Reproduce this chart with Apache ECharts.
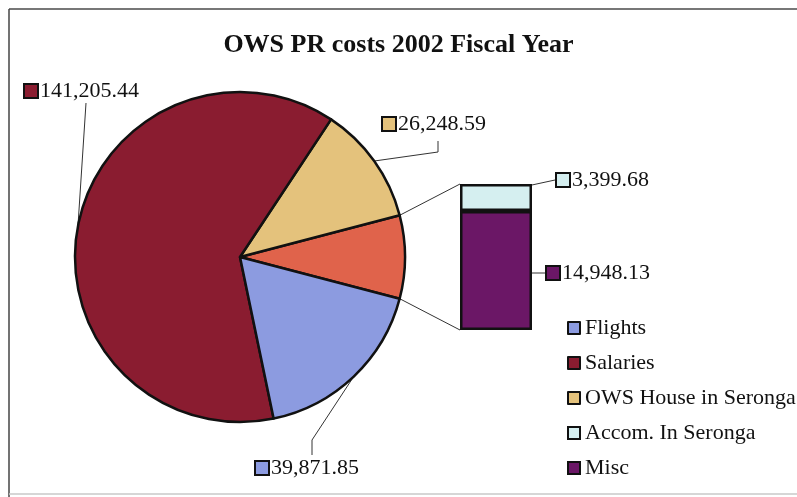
<!DOCTYPE html>
<html>
<head>
<meta charset="utf-8">
<script src="https://cdn.jsdelivr.net/npm/echarts@6/dist/echarts.min.js"></script>
<style>
  html, body { margin: 0; padding: 0; background: #ffffff; }
  #chart { width: 797px; height: 497px; }
</style>
</head>
<body>
<div id="chart"></div>
<script>
// Cost categories and amounts (USD), fiscal year 2002
const categories = ['Flights', 'Salaries', 'OWS House in Seronga', 'Accom. In Seronga', 'Misc'];
const pieNames   = ['Flights', 'Salaries', 'OWS House in Seronga'];
const pieValues  = [39871.85, 141205.44, 26248.59];
const barNames   = ['Accom. In Seronga', 'Misc'];
const barValues  = [3399.68, 14948.13];

const COLORS = {
  'Flights': '#8c9be0',
  'Salaries': '#8a1c30',
  'OWS House in Seronga': '#e4c27c',
  'Other': '#e0634b',
  'Accom. In Seronga': '#d5eff0',
  'Misc': '#6b1766'
};
const FONT = "'Liberation Serif', 'Times New Roman', serif";

// Pie geometry
const CX = 240, CY = 257, R = 165;
// Stacked breakdown bar geometry
const BAR = { left: 460, top: 184, width: 72, height: 146 };

const otherValue = barValues.reduce((a, b) => a + b, 0);
const total = pieValues.reduce((a, b) => a + b, 0) + otherValue;
const halfOther = otherValue / total * 180;

// Slices in counter-clockwise order starting with the split-out slice
const pieOrder = [
  { name: 'Other', value: otherValue },
  { name: pieNames[2], value: pieValues[2] },
  { name: pieNames[1], value: pieValues[1] },
  { name: pieNames[0], value: pieValues[0] }
];

// Mid angle (degrees, counter-clockwise from 3 o'clock) for each slice
const midAngles = {};
(function () {
  let a = -halfOther;
  pieOrder.forEach(d => {
    const span = d.value / total * 360;
    midAngles[d.name] = a + span / 2;
    a += span;
  });
})();
function edgePoint(deg) {
  const t = deg * Math.PI / 180;
  return [CX + R * Math.cos(t), CY - R * Math.sin(t)];
}

function fmt(v) {
  return v.toLocaleString('en-US', { minimumFractionDigits: 2, maximumFractionDigits: 2 });
}

// Label placement: anchor of the label text and the leader-line bends
const pieLabelSpot = {
  'Salaries': { x: 25, y: 91, bends: [[86, 103]] },
  'OWS House in Seronga': { x: 383, y: 124, bends: [[438, 152], [438, 141]] },
  'Flights': { x: 256, y: 468, bends: [[312, 440], [312, 455]] }
};

const rich = {
  v: { fontFamily: FONT, fontSize: 22, color: '#111', padding: [0, 0, 0, 3] }
};
Object.keys(COLORS).forEach((k, i) => {
  rich['s' + i] = { width: 12, height: 12, backgroundColor: COLORS[k], borderColor: '#111', borderWidth: 2 };
});
function sqKey(name) { return 's' + Object.keys(COLORS).indexOf(name); }

const chart = echarts.init(document.getElementById('chart'), null, { renderer: 'canvas' });

const pieData = pieOrder.map(d => ({
  name: d.name,
  value: d.value,
  itemStyle: { color: COLORS[d.name] },
  label: { show: d.name !== 'Other' },
  labelLine: { show: d.name !== 'Other' }
}));

const barSeries = [
  { name: barNames[1], value: barValues[1], labelSpot: { x: 547, y: 273 } },
  { name: barNames[0], value: barValues[0], labelSpot: { x: 557, y: 180 } }
].map(d => ({
  name: d.name,
  type: 'bar',
  stack: 'other',
  barWidth: '100%',
  data: [d.value],
  itemStyle: { color: COLORS[d.name], borderColor: '#111', borderWidth: 2.5 },
  label: {
    show: true,
    position: 'right',
    overflow: 'none',
    formatter: () => '{' + sqKey(d.name) + '|}{v|' + fmt(d.value) + '}',
    rich: rich
  },
  labelLine: { show: true, lineStyle: { color: '#333', width: 1 } },
  labelLayout: function (params) {
    const r = params.rect;
    const sx = r.x + r.width + 1;
    const sy = d.name === 'Misc' ? d.labelSpot.y : r.y + r.height / 2 + 1;
    return {
      x: d.labelSpot.x, y: d.labelSpot.y, align: 'left', verticalAlign: 'middle',
      labelLinePoints: d.name === 'Misc'
        ? [[sx, sy], [d.labelSpot.x - 2, sy]]
        : [[sx, sy], [d.labelSpot.x - 2, d.labelSpot.y - 6]]
    };
  }
}));

// Connector lines from the split-out slice to the breakdown bar
const topEdge = edgePoint(halfOther);
const botEdge = edgePoint(-halfOther);

const option = {
  animation: false,
  backgroundColor: '#ffffff',
  title: {
    text: 'OWS PR costs 2002 Fiscal Year',
    left: 'center',
    top: 27,
    textStyle: { fontFamily: FONT, fontSize: 26, fontWeight: 'bold', color: '#111' }
  },
  legend: {
    data: categories,
    orient: 'vertical',
    left: 562,
    top: 312,
    icon: 'rect',
    itemWidth: 12,
    itemHeight: 12,
    itemGap: 13,
    itemStyle: { borderColor: '#111', borderWidth: 2 },
    textStyle: { fontFamily: FONT, fontSize: 22, color: '#111', lineHeight: 22 },
    selectedMode: false
  },
  grid: { left: BAR.left, top: BAR.top, width: BAR.width, height: BAR.height },
  xAxis: { type: 'category', data: ['Other'], show: false },
  yAxis: { type: 'value', min: 0, max: otherValue, show: false },
  series: [
    {
      name: 'costs',
      type: 'pie',
      center: [CX, CY],
      radius: R,
      clockwise: false,
      startAngle: -halfOther,
      itemStyle: { borderColor: '#111', borderWidth: 2.5 },
      label: {
        position: 'outside',
        overflow: 'none',
        width: 200,
        formatter: p => '{' + sqKey(p.name) + '|}{v|' + fmt(p.value) + '}',
        rich: rich
      },
      labelLine: { show: true, lineStyle: { color: '#333', width: 1 } },
      labelLayout: function (params) {
        const name = pieOrder[params.dataIndex].name;
        const spot = pieLabelSpot[name];
        if (!spot) return {};
        const start = edgePoint(midAngles[name]);
        return {
          x: spot.x, y: spot.y, align: 'left', verticalAlign: 'middle',
          labelLinePoints: [start].concat(spot.bends)
        };
      },
      data: pieData
    }
  ].concat(barSeries),
  graphic: [
    { type: 'line', shape: { x1: topEdge[0], y1: topEdge[1], x2: BAR.left, y2: BAR.top }, style: { stroke: '#333', lineWidth: 1 }, z: 1 },
    { type: 'line', shape: { x1: botEdge[0], y1: botEdge[1], x2: BAR.left, y2: BAR.top + BAR.height }, style: { stroke: '#333', lineWidth: 1 }, z: 1 },
    // chart frame
    { type: 'line', shape: { x1: 9, y1: 9, x2: 797, y2: 9 }, style: { stroke: '#777', lineWidth: 2 } },
    { type: 'line', shape: { x1: 9, y1: 9, x2: 9, y2: 497 }, style: { stroke: '#444', lineWidth: 1.5 } },
    { type: 'line', shape: { x1: 9, y1: 494, x2: 797, y2: 494 }, style: { stroke: '#c8c8c8', lineWidth: 1.5 } }
  ]
};

chart.setOption(option);
</script>
</body>
</html>
